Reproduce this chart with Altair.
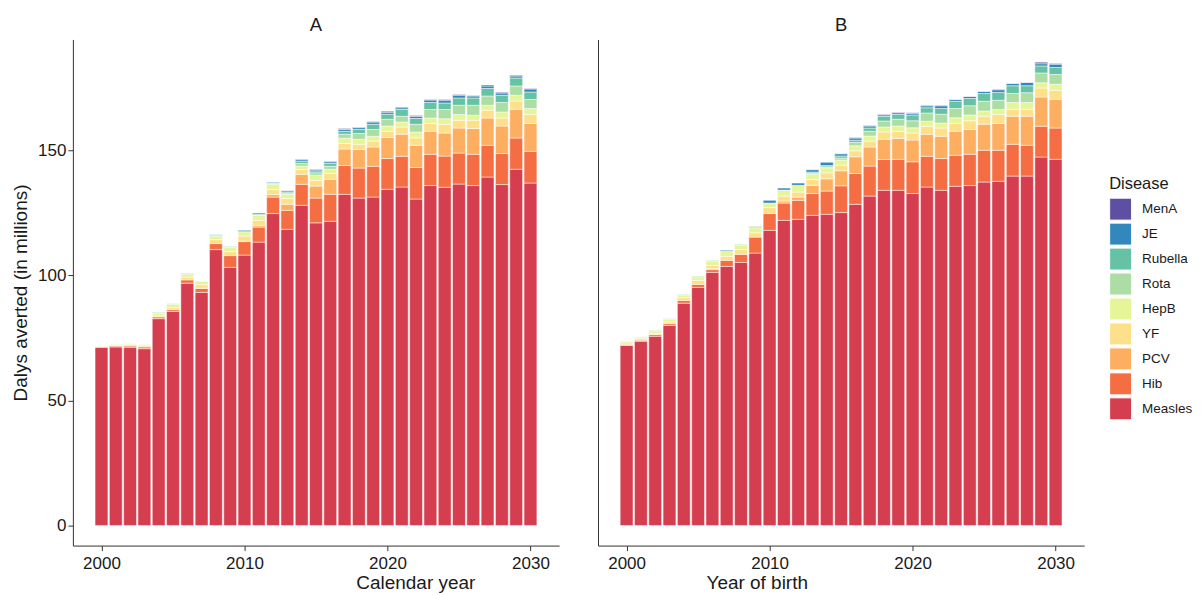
import altair as alt
import pandas as pd

years = list(range(2000, 2031))

# Stack order bottom -> top
diseases = ["Measles", "Hib", "PCV", "YF", "HepB", "Rota", "Rubella", "JE", "MenA"]
legend_order = ["MenA", "JE", "Rubella", "Rota", "HepB", "YF", "PCV", "Hib", "Measles"]
legend_colors = ["#5E4FA2", "#3288BD", "#66C2A5", "#ABDDA4", "#E6F598",
                 "#FEE08B", "#FDAE61", "#F46D43", "#D53E4F"]

# Panel A: calendar year (millions of DALYs averted)
A_measles = [71.3, 71.4, 71.3, 70.7, 82.7, 85.6, 96.9, 93.2, 110.3, 103.2, 108.1, 113.3, 124.7, 118.4, 128.0, 121.0,
             121.6, 132.4, 130.9, 131.3, 134.4, 135.3, 130.5, 135.9, 135.2, 136.5, 135.9, 139.3, 136.3, 142.4, 136.9]
A_hib = [0, 0.4, 0.5, 0.7, 0.7, 0.7, 1.3, 1.6, 2.4, 4.7, 5.4, 6.0, 6.6, 7.6, 8.4, 9.9,
         10.8, 11.5, 12.0, 12.3, 12.3, 12.3, 12.6, 12.5, 12.5, 12.4, 12.5, 12.7, 12.4, 12.5, 12.7]
A_pcv = [0, 0, 0, 0, 0, 0, 0, 0, 0, 0, 0.2, 0.7, 1.0, 2.4, 4.0, 4.8,
         6.0, 6.6, 7.4, 7.7, 8.4, 8.8, 8.9, 9.2, 9.2, 10.0, 10.3, 10.9, 11.0, 11.5, 11.1]
A_yf = [0.2, 0.3, 0.5, 0.5, 0.7, 0.8, 1.1, 1.5, 1.6, 1.6, 2.0, 2.0, 2.0, 2.3, 1.9, 2.3,
        2.3, 2.2, 2.1, 2.4, 2.5, 2.9, 3.0, 3.1, 3.5, 3.1, 3.3, 3.1, 3.2, 3.3, 3.6]
A_hepb = [0.2, 0.3, 0.4, 0.4, 0.7, 1.3, 1.1, 1.3, 1.3, 1.6, 1.7, 2.0, 2.1, 1.7, 1.4, 2.0,
          1.7, 2.1, 2.0, 1.9, 2.1, 2.0, 2.3, 2.2, 2.2, 2.3, 2.0, 2.0, 2.4, 2.3, 2.4]
A_rota = [0, 0, 0.1, 0.1, 0.3, 0.3, 0.3, 0.1, 0.4, 0.3, 0.1, 0.2, 0.3, 0.5, 1.0, 1.0,
          1.2, 1.6, 2.3, 2.7, 2.7, 2.3, 3.1, 3.4, 3.7, 3.7, 4.0, 3.7, 3.8, 3.7, 3.6]
A_rubella = [0, 0, 0, 0, 0.2, 0, 0.2, 0, 0.3, 0.2, 0, 0.2, 0.2, 0.4, 1.0, 0.8,
             1.1, 1.2, 1.7, 2.1, 2.0, 2.7, 2.3, 2.8, 2.6, 2.9, 2.9, 3.0, 2.9, 3.2, 3.0]
A_je = [0, 0, 0, 0, 0, 0, 0, 0, 0, 0, 0.5, 0.5, 0.3, 0.5, 0.7, 0.6,
        0.7, 0.7, 0.7, 0.9, 0.8, 0.7, 0.8, 1.0, 1.1, 1.1, 0.8, 1.0, 0.9, 0.8, 1.2]
A_mena = [0, 0, 0, 0, 0, 0, 0, 0, 0, 0, 0, 0, 0, 0.1, 0.1, 0.1,
          0.2, 0.4, 0.2, 0.2, 0.4, 0.3, 0.4, 0.2, 0.3, 0.3, 0.2, 0.4, 0.3, 0.3, 0.2]

# Panel B: year of birth
B_measles = [72.0, 73.7, 75.7, 80.0, 88.9, 95.2, 101.2, 103.6, 105.2, 108.9, 118.0, 122.0, 122.4, 124.0, 124.4, 125.1,
             128.4, 131.7, 134.0, 134.0, 132.7, 135.3, 134.0, 135.6, 135.9, 137.3, 137.6, 139.7, 139.7, 147.3, 146.4]
B_hib = [0.3, 0.4, 0.7, 0.7, 1.1, 1.2, 1.1, 2.4, 3.2, 6.4, 6.7, 6.9, 7.6, 8.7, 9.3, 10.7,
         12.3, 12.0, 12.3, 12.4, 12.7, 12.3, 12.7, 12.4, 12.5, 12.7, 12.4, 12.7, 12.3, 12.3, 12.5]
B_pcv = [0, 0, 0, 0, 0, 0, 0.4, 0, 0, 0, 0, 0.8, 1.3, 3.3, 4.9, 6.0,
         6.7, 7.6, 8.1, 8.3, 8.7, 8.8, 8.9, 9.6, 9.9, 10.4, 10.7, 11.2, 11.6, 11.7, 11.5]
B_yf = [0.7, 0.6, 0.5, 0.7, 1.1, 1.6, 1.3, 1.6, 1.9, 1.7, 2.4, 2.0, 2.0, 2.3, 2.4, 2.3,
        2.4, 2.4, 2.9, 2.9, 2.8, 3.2, 3.3, 3.1, 3.5, 3.2, 3.6, 2.8, 2.8, 3.6, 3.6]
B_hepb = [0.6, 0.6, 0.7, 1.0, 1.0, 1.1, 1.7, 2.0, 1.7, 2.0, 1.8, 2.3, 2.7, 2.1, 2.0, 2.0,
          2.0, 2.0, 2.0, 2.1, 2.1, 2.0, 2.0, 2.3, 2.3, 2.1, 2.0, 2.7, 2.7, 2.1, 2.4]
B_rota = [0, 0, 0.4, 0.3, 0.3, 0.5, 0.3, 0, 0.4, 0.6, 0, 0.1, 0, 0.5, 0.4, 0.8,
          1.3, 1.9, 2.4, 2.7, 2.8, 3.3, 3.5, 3.7, 3.7, 3.9, 3.7, 3.6, 3.9, 3.9, 3.9]
B_rubella = [0, 0, 0, 0, 0, 0, 0, 0, 0, 0, 0, 0, 0, 0.4, 0.5, 0.8,
             0.9, 1.3, 1.9, 1.9, 2.3, 2.1, 2.3, 2.9, 2.9, 3.1, 3.1, 3.1, 2.8, 2.8, 2.8]
B_je = [0, 0, 0, 0, 0, 0, 0, 0.4, 0, 0, 1.1, 0.8, 0.9, 0.9, 1.3, 0.9,
        0.9, 0.8, 0.6, 0.7, 0.7, 0.8, 1.1, 0.7, 0.8, 0.8, 1.1, 0.9, 1.3, 0.9, 1.3]
B_mena = [0, 0, 0, 0, 0, 0, 0, 0, 0, 0, 0, 0, 0, 0, 0, 0.1,
          0.2, 0.2, 0.2, 0.2, 0.2, 0.2, 0.2, 0.1, 0.1, 0.1, 0.2, 0.1, 0.1, 0.6, 0.3]

panel_series = {
    "A": [A_measles, A_hib, A_pcv, A_yf, A_hepb, A_rota, A_rubella, A_je, A_mena],
    "B": [B_measles, B_hib, B_pcv, B_yf, B_hepb, B_rota, B_rubella, B_je, B_mena],
}

rows = []
for pname, series in panel_series.items():
    for ord_i, (dis, vals) in enumerate(zip(diseases, series)):
        for yr, v in zip(years, vals):
            rows.append({"panel": pname, "year": yr, "disease": dis, "ord": ord_i, "value": v})
df = pd.DataFrame(rows)

FONT = "Liberation Sans"
AXIS_COL = "#333333"
TXT = "#1a1a1a"

color = alt.Color(
    "disease:N",
    scale=alt.Scale(domain=legend_order, range=legend_colors),
    legend=alt.Legend(
        title="Disease", orient="none", legendX=1038, legendY=137, padding=0,
        symbolType="square", symbolSize=484, symbolStrokeColor="white",
        symbolStrokeWidth=1, symbolOpacity=1, labelFontSize=13.5, titleFontSize=16.5,
        titleFontWeight="normal", rowPadding=-4, labelOffset=10, titlePadding=5,
        labelColor=TXT, titleColor=TXT,
    ),
)


def make_panel(pname, xtitle, title_x, first):
    if first:
        yaxis = alt.Axis(values=[0, 50, 100, 150], title="Dalys averted (in millions)",
                         titleFontSize=19, labelFontSize=17, tickSize=5, grid=False,
                         labelPadding=2, titlePadding=7, titleFontWeight="normal",
                         domainColor=AXIS_COL, tickColor=AXIS_COL, labelColor=TXT,
                         titleColor=TXT)
    else:
        yaxis = alt.Axis(labels=False, ticks=False, title=None, grid=False,
                         domainColor=AXIS_COL)
    xaxis = alt.Axis(values=[2000, 2010, 2020, 2030], format="d", title=xtitle,
                     titleFontSize=19, labelFontSize=17, tickSize=5, grid=False,
                     labelPadding=4.5, titleFontWeight="normal", titleX=title_x,
                     titleY=42.5, titleBaseline="alphabetic", titleAlign="center",
                     domainColor=AXIS_COL, tickColor=AXIS_COL, labelColor=TXT,
                     titleColor=TXT)
    return (
        alt.Chart(df)
        .transform_filter(alt.datum.panel == pname)
        .transform_filter(alt.datum.value > 0)
        .transform_stack(stack="value", groupby=["year"], as_=["y0", "y1"],
                         sort=[alt.SortField(field="ord", order="ascending")])
        .transform_calculate(x0="datum.year - 0.45", x1="datum.year + 0.45")
        .mark_bar(stroke="white", strokeWidth=0.5)
        .encode(
            x=alt.X("x0:Q", scale=alt.Scale(domain=[1998, 2032], nice=False, zero=False), axis=xaxis),
            x2="x1:Q",
            y=alt.Y("y0:Q", scale=alt.Scale(domain=[-8, 194.3], nice=False, zero=False), axis=yaxis),
            y2="y1:Q",
            color=color,
        )
        .properties(
            width=487, height=507,
            title=alt.TitleParams(pname, fontSize=18.5, fontWeight="normal", anchor="middle",
                                  frame="group", offset=4.6, color=TXT),
        )
    )


left = make_panel("A", "Calendar year", 343, True)
right = make_panel("B", "Year of birth", 159, False)

chart = (
    alt.hconcat(left, right, spacing=37)
    .properties(padding={"left": 3, "top": 7, "right": 0, "bottom": 0})
    .configure(font=FONT)
    .configure_view(stroke="transparent")
)

chart.save("out.html", embed_options={"renderer": "svg", "actions": False})
